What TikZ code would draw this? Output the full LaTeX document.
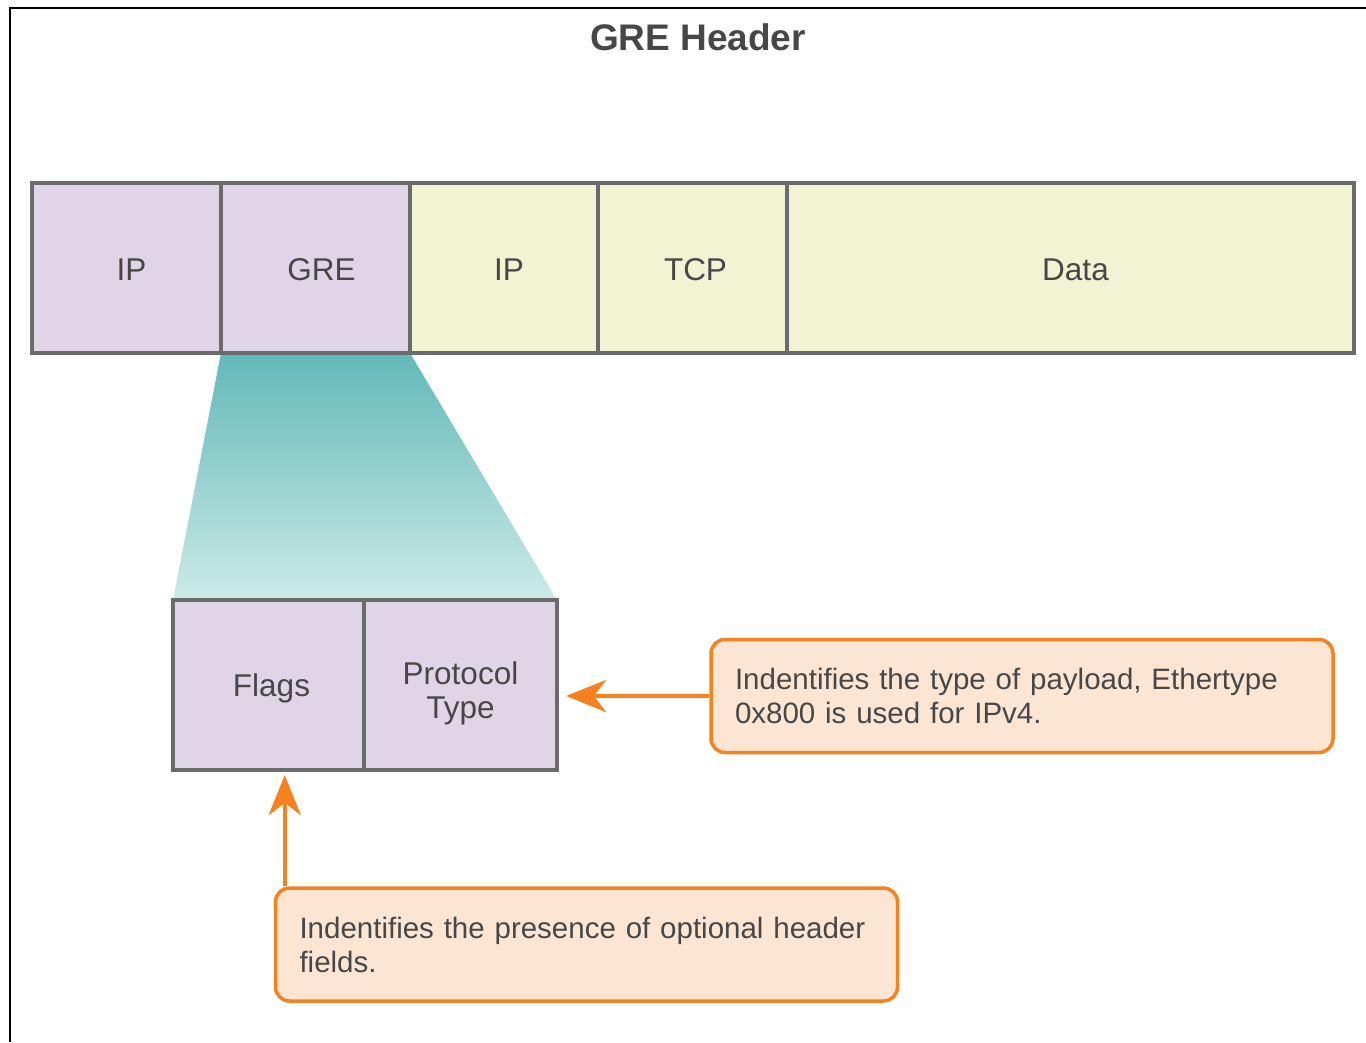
\documentclass[tikz,border=0pt]{standalone}
\usepackage{fontspec}
\setmainfont{Liberation Sans}
\usetikzlibrary{arrows.meta}
\definecolor{purp}{HTML}{E0D5E6}
\definecolor{yell}{HTML}{F2F3D3}
\definecolor{edge}{HTML}{6B6B6B}
\definecolor{tealtop}{HTML}{62B9B9}
\definecolor{tealbot}{HTML}{CCEAE6}
\definecolor{orng}{HTML}{F5821F}
\definecolor{peach}{HTML}{FDE5D4}
\definecolor{txt}{HTML}{474747}
\tikzset{
  cell/.style={draw=edge, line width=4pt, minimum height=170pt, inner sep=0pt,
    text=txt, font=\fontsize{31.5}{34}\selectfont},
  lbl/.style={text=txt, font=\fontsize{31.5}{34}\selectfont, inner sep=0pt, align=center},
  callout/.style={draw=orng, fill=peach, line width=3.5pt, rounded corners=14pt,
    text width=574pt, inner xsep=24pt, inner ysep=0pt, minimum height=113pt,
    align=left, text=txt, font=\fontsize{29.5}{34}\selectfont},
  oarrow/.style={draw=orng, line width=4.5pt, -{Stealth[length=40pt,width=32pt,inset=12pt]}}
}
\begin{document}
\begin{tikzpicture}[x=1pt,y=-1pt]
\useasboundingbox (0,0) rectangle (1366,1042);
\fill[white] (0,0) rectangle (1366,1042);
% frame
\draw[black, line width=2pt] (10,1042) -- (10,8) -- (1366,8);
% title
\node[font=\bfseries\fontsize{37}{40}\selectfont, text=txt] (title) at (698,37) {GRE Header};
% lower box coords
\coordinate (lnw) at (173,600);
\coordinate (lne) at (557,600);
% trapezoid
\shade[top color=tealtop, bottom color=tealbot] (221,353) -- (410,353) -- (lne) -- (lnw) -- cycle;
% top bar
\node[cell, fill=purp, minimum width=189pt] (ipa) at (126.5,268) {};
\node[cell, fill=purp, minimum width=189pt] (gre) at (315.5,268) {};
\node[cell, fill=yell, minimum width=188pt] (ipb) at (504,268) {};
\node[cell, fill=yell, minimum width=189pt] (tcp) at (692.5,268) {};
\node[cell, fill=yell, minimum width=567pt] (data) at (1070.5,268) {};
\node[lbl] (ipaL) at ([xshift=5pt,yshift=-2pt]ipa.center) {IP};
\node[lbl] (greL) at ([xshift=6pt,yshift=-2pt]gre.center) {GRE};
\node[lbl] (ipbL) at ([xshift=5pt,yshift=-2pt]ipb.center) {IP};
\node[lbl] (tcpL) at ([xshift=3pt,yshift=-2pt]tcp.center) {TCP};
\node[lbl] (dataL) at ([xshift=5pt,yshift=-2pt]data.center) {Data};
% lower boxes
\node[cell, fill=purp, minimum width=191pt] (flags) at (268.5,685) {};
\node[cell, fill=purp, minimum width=193pt] (proto) at (460.5,685) {};
\node[lbl] (flagsL) at ([xshift=3pt,yshift=-3pt]flags.center) {Flags};
\node[lbl] (protoL) at ([yshift=-8pt]proto.center) {Protocol\\Type};
% callouts
\node[callout] (c1) at (1022,696) {Indentifies the type of payload, Ethertype 0x800 is used for IPv4.};
\node[callout] (c2) at (586.5,944.5) {Indentifies the presence of optional header fields.};
% arrows
\draw[oarrow, shorten >=7pt] (c1.west) -- (c1.west -| proto.east);
\draw[oarrow, shorten >=3pt] ([xshift=11pt]c2.north west) -- ([xshift=11pt]c2.north west |- flags.south);
\end{tikzpicture}
\end{document}
